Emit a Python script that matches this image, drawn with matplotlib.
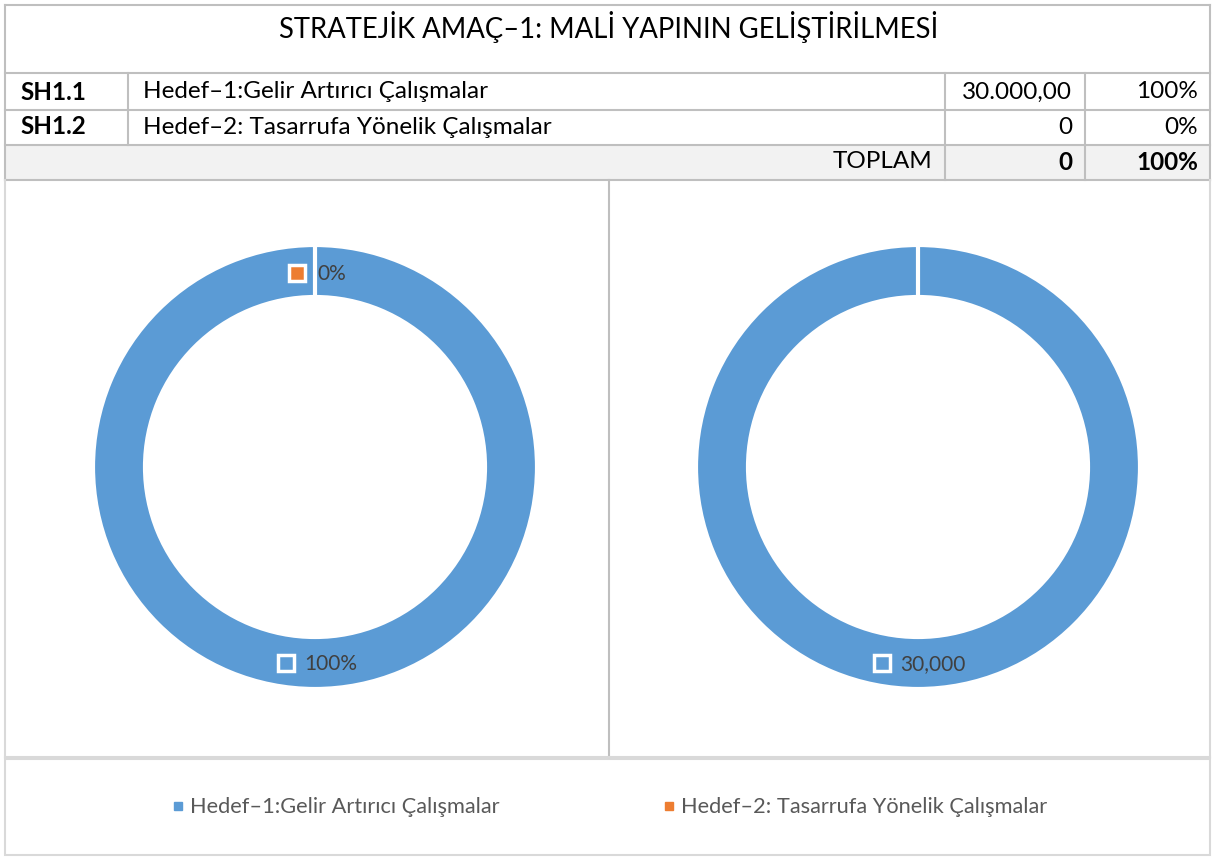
import matplotlib
matplotlib.use('Agg')
import matplotlib.pyplot as plt

plt.rcParams['font.family'] = ['Lato', 'DejaVu Sans']

title = 'STRATEJİK AMAÇ–1: MALİ YAPININ GELİŞTİRİLMESİ'
codes = ['SH1.1', 'SH1.2']
goals = ['Hedef–1:Gelir Artırıcı Çalışmalar', 'Hedef–2: Tasarrufa Yönelik Çalışmalar']
amounts = [30000, 0]
amount_text = ['30.000,00', '0']
pct_text = ['100%', '0%']
total_amount = '0'
total_pct = '100%'
colors = ['#5B9BD5', '#ED7D31']

W, H = 1214, 859
fig = plt.figure(figsize=(W / 100, H / 100), dpi=100)
bg = fig.add_axes([0, 0, 1, 1])
bg.set_xlim(0, W)
bg.set_ylim(H, 0)
bg.axis('off')

line = '#bfbfbf'
light = '#d9d9d9'

# table
bg.add_patch(plt.Rectangle((5, 145), 1205, 35, color='#f2f2f2', lw=0))
for y in [5, 73, 110, 145, 180]:
    bg.plot([5, 1210], [y, y], color=line, lw=1.5)
bg.plot([5, 5], [5, 180], color=line, lw=1.5)
bg.plot([1210, 1210], [5, 180], color=line, lw=1.5)
bg.plot([128, 128], [73, 145], color=line, lw=1.5)
for x in [945, 1085]:
    bg.plot([x, x], [73, 180], color=line, lw=1.5)

fs = 17.5
bg.text(609, 27, title, fontsize=19.8, ha='center', va='center')
rows_y = [92, 127]
for i in range(2):
    y = rows_y[i]
    bg.text(20, y, codes[i], fontsize=fs, fontweight='bold', ha='left', va='center')
    bg.text(143, y, goals[i], fontsize=fs, ha='left', va='center')
    bg.text(1072, y, amount_text[i], fontsize=fs, ha='right', va='center')
    bg.text(1198, y, pct_text[i], fontsize=fs, ha='right', va='center')
bg.text(932, 162, 'TOPLAM', fontsize=fs, ha='right', va='center')
bg.text(1072, 162, total_amount, fontsize=fs, fontweight='bold', ha='right', va='center')
bg.text(1198, 162, total_pct, fontsize=fs, fontweight='bold', ha='right', va='center')

# chart frames
bg.plot([5, 5], [180, 757], color=light, lw=1.5)
bg.plot([609, 609], [180, 757], color=line, lw=1.5)
bg.plot([1210, 1210], [180, 757], color=light, lw=1.5)
bg.plot([5, 1210], [757, 757], color=light, lw=1.5)
bg.add_patch(plt.Rectangle((5, 759), 1205, 96, fill=False, ec=light, lw=1.5))

# donuts
R = 222
ring = 52
for cx, cy in [(315, 467), (918, 467)]:
    ax = fig.add_axes([(cx - R) / W, (H - cy - R) / H, 2 * R / W, 2 * R / H])
    ax.pie(amounts, colors=colors, startangle=90, counterclock=False, radius=1,
           wedgeprops=dict(width=ring / R, edgecolor='white', linewidth=3))
    ax.set_xlim(-1, 1)
    ax.set_ylim(-1, 1)
    ax.axis('off')

# overlay for data labels
top = fig.add_axes([0, 0, 1, 1])
top.set_xlim(0, W)
top.set_ylim(H, 0)
top.axis('off')
top.patch.set_alpha(0)

lab = '#404040'
lfs = 15
top.plot(297, 273, marker='s', ms=11, mfc=colors[1], mec='white', mew=2.5)
top.text(317, 274, pct_text[1], fontsize=lfs, color=lab, ha='left', va='center')
top.plot(286, 663, marker='s', ms=11, mfc=colors[0], mec='white', mew=2.5)
top.text(304, 664, pct_text[0], fontsize=lfs, color=lab, ha='left', va='center')
top.plot(882, 663, marker='s', ms=11, mfc=colors[0], mec='white', mew=2.5)
top.text(900, 664, f'{amounts[0]:,}', fontsize=lfs, color=lab, ha='left', va='center')

# legend
leg = '#595959'
top.plot(178, 806, marker='s', ms=6, color=colors[0])
top.text(190, 807, goals[0], fontsize=15.7, color=leg, ha='left', va='center')
top.plot(669, 806, marker='s', ms=6, color=colors[1])
top.text(681, 807, goals[1], fontsize=15.7, color=leg, ha='left', va='center')

fig.savefig('out.png', dpi=100)
